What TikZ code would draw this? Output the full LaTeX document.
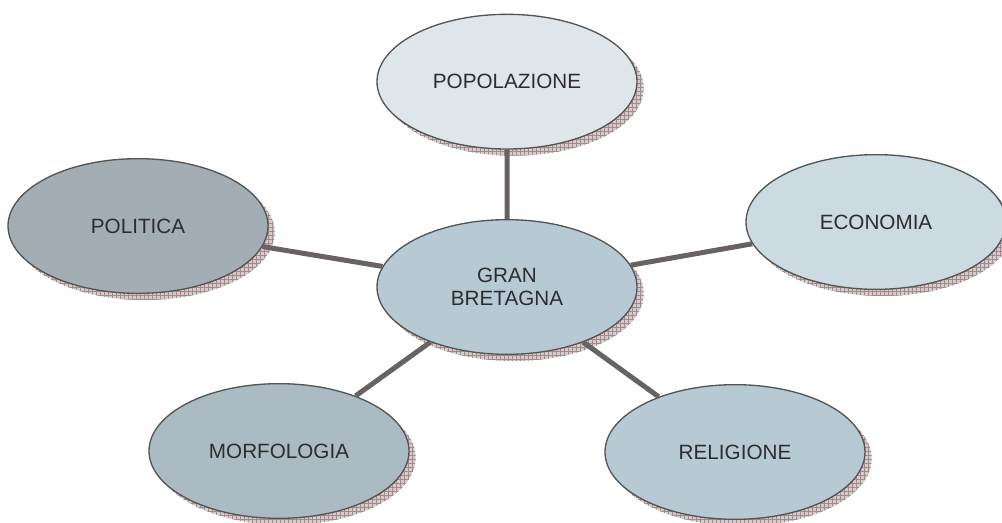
\documentclass[tikz,border=0pt]{standalone}
\usepackage{fontspec}
\setmainfont{Liberation Sans}
\usepackage{xcolor}
\usepackage{tikz}
\usetikzlibrary{shapes.geometric,positioning,patterns}
\definecolor{edge}{RGB}{85,85,85}
\definecolor{ink}{RGB}{45,45,48}
\definecolor{linkgray}{RGB}{104,98,98}
\definecolor{shfill}{RGB}{214,202,202}
\definecolor{shline}{RGB}{160,140,140}
\definecolor{popfill}{RGB}{223,230,234}
\definecolor{granfill}{RGB}{183,202,212}
\definecolor{polfill}{RGB}{162,173,180}
\definecolor{ecofill}{RGB}{204,218,226}
\definecolor{morfill}{RGB}{171,187,195}
\definecolor{relfill}{RGB}{183,202,212}
\tikzstyle{topic}=  [draw=edge,
line width=1pt,
ellipse,
minimum width=195pt,
minimum height=101pt,
inner sep=0pt,
align=center,
text=ink,
font=\fontsize{15.5}{17.5}\selectfont,
preaction={draw=none,fill=shfill,transform canvas={shift={(5pt,-5pt)}}},
preaction={draw=none,pattern=grid,pattern color=shline,transform canvas={shift={(5pt,-5pt)}}},
]
\tikzstyle{link}=   [draw=linkgray,
line width=3.75pt,
]

\begin{document}
\begin{tikzpicture}[x=0.75pt,y=-0.75pt]
        \useasboundingbox (0,0) rectangle (1002,523);
        \node[topic, fill=granfill] (gran) at (507,287) {GRAN\\BRETAGNA};
        \node[topic, fill=popfill, above=52pt of gran] (pop) {POPOLAZIONE};
        \node[topic, fill=polfill] (pol) at (138,226) {POLITICA};
        \node[topic, fill=ecofill] (eco) at (876,222) {ECONOMIA};
        \node[topic, fill=morfill] (mor) at (279,451) {MORFOLOGIA};
        \node[topic, fill=relfill] (rel) at (735,452) {RELIGIONE};

        \draw[link] (gran) -- (pop) (gran) -- (pol) (gran) -- (eco);
        \draw[link] (gran) -- (mor) (gran) -- (rel);
    \end{tikzpicture}
\end{document}
